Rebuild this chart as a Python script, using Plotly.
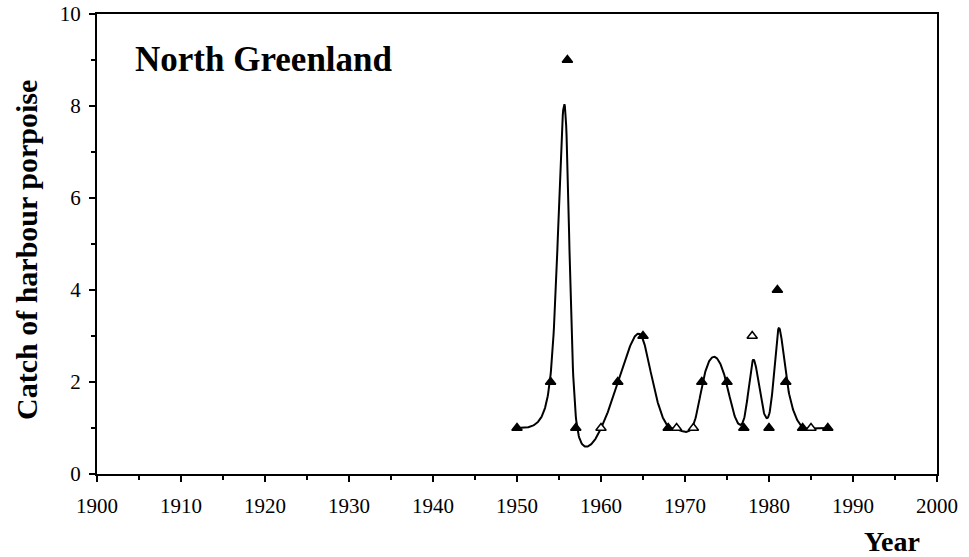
import numpy as np
import plotly.graph_objects as go

years = [1950, 1954, 1956, 1957, 1960, 1962, 1965, 1968, 1969, 1971,
         1972, 1975, 1977, 1978, 1980, 1981, 1982, 1984, 1985, 1987]
catch = [1, 2, 9, 1, 1, 2, 3, 1, 1, 1,
         2, 2, 1, 3, 1, 4, 2, 1, 1, 1]
open_marker_years = [1960, 1969, 1971, 1978, 1985]

x_ticks = [1900, 1910, 1920, 1930, 1940, 1950, 1960, 1970, 1980, 1990, 2000]
y_ticks = [0, 2, 4, 6, 8, 10]


def smoothing_spline(xs, ys, lam2, lam1, step=0.05):
    """Penalised (tension) smoothing spline fitted on log counts."""
    xs = np.asarray(xs, float)
    ys = np.log(np.asarray(ys, float))
    grid = np.arange(xs.min(), xs.max() + step / 2, step)
    n = len(grid)
    w = np.zeros(n)
    z = np.zeros(n)
    for xv, yv in zip(xs, ys):
        i = int(round((xv - grid[0]) / step))
        w[i] += 1
        z[i] += yv
    D2 = np.diff(np.eye(n), 2, axis=0)
    D1 = np.diff(np.eye(n), 1, axis=0)
    A = np.diag(w) + lam2 / step ** 3 * (D2.T @ D2) + lam1 / step * (D1.T @ D1)
    f = np.linalg.solve(A, z)
    return grid, np.exp(f)


gx, gy = smoothing_spline(years, catch, 0.03, 0.028)

fig = go.Figure()
fig.add_trace(go.Scatter(x=gx, y=gy, mode="lines",
                         line=dict(color="black", width=2), hoverinfo="skip"))
fills = ["white" if y in open_marker_years else "black" for y in years]
fig.add_trace(go.Scatter(x=years, y=catch, mode="markers",
                         marker=dict(symbol="triangle-up", size=9, color=fills,
                                     line=dict(color="black", width=1.5))))

font = dict(family="Liberation Serif", size=21, color="black")
pw, ph = 969 - 97 - 32, 557 - 14 - 83
def px(xp):
    return (xp - 97) / pw
def py(yp):
    return (474 - yp) / ph

fig.update_layout(
    width=969, height=557,
    margin=dict(l=97, r=32, t=14, b=83),
    paper_bgcolor="white", plot_bgcolor="white",
    showlegend=False,
    font=font,
    xaxis=dict(range=[1900, 2000], tickvals=x_ticks, ticks="outside", ticklen=6,
               tickwidth=1.5, tickcolor="black", showline=True, linecolor="black",
               linewidth=2, mirror=True, showgrid=False, zeroline=False,
               automargin=False,
               minor=dict(dtick=5, tick0=1900, ticks="outside", ticklen=4,
                          tickcolor="black", tickwidth=1.5),
               tickfont=font, ticklabelstandoff=6),
    yaxis=dict(range=[0, 10], tickvals=y_ticks, ticks="outside", ticklen=6,
               tickwidth=1.5, tickcolor="black", showline=True, linecolor="black",
               linewidth=2, mirror=True, showgrid=False, zeroline=False,
               automargin=False,
               minor=dict(dtick=1, tick0=0, ticks="outside", ticklen=4,
                          tickcolor="black", tickwidth=1.5),
               tickfont=font, ticklabelstandoff=4),
    annotations=[
        dict(text="<b>North Greenland</b>", x=px(133), y=py(60), xref="paper", yref="paper",
             showarrow=False, font=dict(family="Liberation Serif", size=35, color="black"),
             xanchor="left", yanchor="middle"),
        dict(text="<b>Catch of harbour porpoise</b>", textangle=-90, showarrow=False,
             xref="paper", yref="paper", x=px(27), y=py(250),
             xanchor="center", yanchor="middle",
             font=dict(family="Liberation Serif", size=30, color="black")),
        dict(text="<b>Year</b>", showarrow=False, xref="paper", yref="paper",
             x=px(892), y=py(541), xanchor="center", yanchor="middle",
             font=dict(family="Liberation Serif", size=28, color="black")),
    ],
)

fig.write_html("out.html", config={"displayModeBar": False})
with open("out.html", "r", encoding="utf-8") as fh:
    html = fh.read()
html = html.replace("<head>", "<head><style>html,body{margin:0;padding:0;overflow:hidden;}</style>", 1)
with open("out.html", "w", encoding="utf-8") as fh:
    fh.write(html)
